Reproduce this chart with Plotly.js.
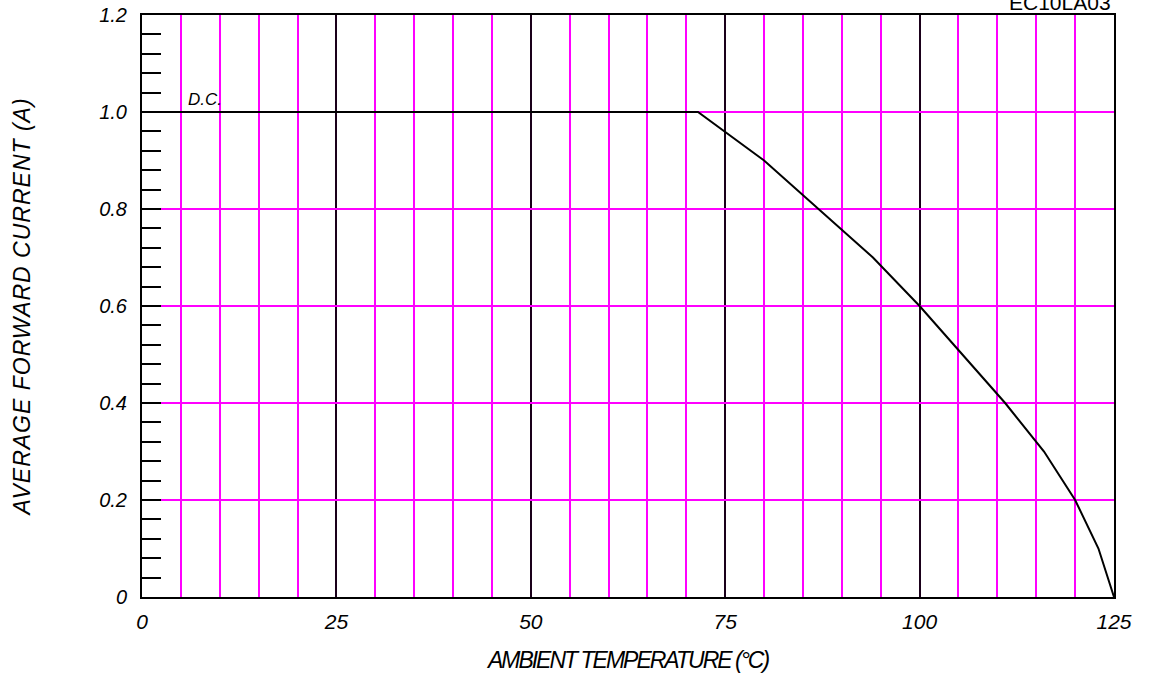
<!DOCTYPE html>
<html>
<head>
<meta charset="utf-8">
<script src="https://cdn.plot.ly/plotly-3.0.1.min.js"></script>
<style>
html,body{margin:0;padding:0;background:#fff;}
#chart{width:1156px;height:681px;}
.g-ytitle text{letter-spacing:1px;}
.g-xtitle text{letter-spacing:-2px;}
</style>
</head>
<body>
<div id="chart"></div>
<script>
var temperature = [0, 71.5, 80, 87, 94, 100, 105.5, 111, 116, 120, 123, 125];
var current = [1.0, 1.0, 0.9, 0.8, 0.7, 0.6, 0.5, 0.4, 0.3, 0.2, 0.1, 0.0];
var xTickVals = [0, 25, 50, 75, 100, 125];
var xTickText = ['0', '25', '50', '75', '100', '125'];
var yTickVals = [0, 0.2, 0.4, 0.6, 0.8, 1.0, 1.2];
var yTickText = ['0', '0.2', '0.4', '0.6', '0.8', '1.0', '1.2'];

var fontFam = 'Liberation Sans, Arial, sans-serif';
var trace = {
  x: temperature, y: current, mode: 'lines', type: 'scatter',
  line: {color: '#000', width: 2}, hoverinfo: 'skip', showlegend: false
};
var layout = {
  width: 1156, height: 681,
  margin: {l: 142, r: 42, t: 15, b: 84},
  paper_bgcolor: '#fff', plot_bgcolor: '#fff',
  font: {family: fontFam, color: '#000'},
  xaxis: {
    range: [0, 125], tickvals: xTickVals, ticktext: xTickText,
    showgrid: true, gridcolor: '#1a001a', gridwidth: 2,
    ticks: '', zeroline: false,
    showline: true, mirror: true, linecolor: '#000', linewidth: 2,
    tickfont: {size: 21, style: 'italic', family: fontFam},
    ticklabelstandoff: 5,
    minor: {dtick: 5, showgrid: true, gridcolor: '#ff00ff', gridwidth: 2, ticks: ''},
    title: {text: 'AMBIENT TEMPERATURE (\u00B0C)', font: {size: 23, style: 'italic', family: fontFam}, standoff: 20},
    fixedrange: true
  },
  yaxis: {
    range: [0, 1.2], tickvals: yTickVals, ticktext: yTickText,
    showgrid: true, gridcolor: '#ff00ff', gridwidth: 2,
    ticks: 'inside', ticklen: 19, tickwidth: 2, tickcolor: '#000',
    zeroline: false,
    showline: true, mirror: true, linecolor: '#000', linewidth: 2,
    tickfont: {size: 20, style: 'italic', family: fontFam},
    ticklabelstandoff: 9,
    minor: {dtick: 0.04, ticks: 'inside', ticklen: 19, tickwidth: 2, tickcolor: '#000', showgrid: false},
    title: {text: 'AVERAGE FORWARD CURRENT (A)', font: {size: 23, style: 'italic', family: fontFam}, standoff: 62},
    fixedrange: true
  },
  annotations: [
    {x: 8.1, y: 1.0, xref: 'x', yref: 'y', text: 'D.C.', showarrow: false,
     yanchor: 'bottom', yshift: 1, font: {size: 17, style: 'italic', family: fontFam}},
    {x: 0.944, y: 1.0, xref: 'paper', yref: 'paper', text: 'EC10LA03', showarrow: false,
     xanchor: 'center', yanchor: 'bottom', yshift: -1, font: {size: 21, family: fontFam}}
  ]
};
Plotly.newPlot('chart', [trace], layout, {displayModeBar: false, staticPlot: true});
</script>
</body>
</html>
